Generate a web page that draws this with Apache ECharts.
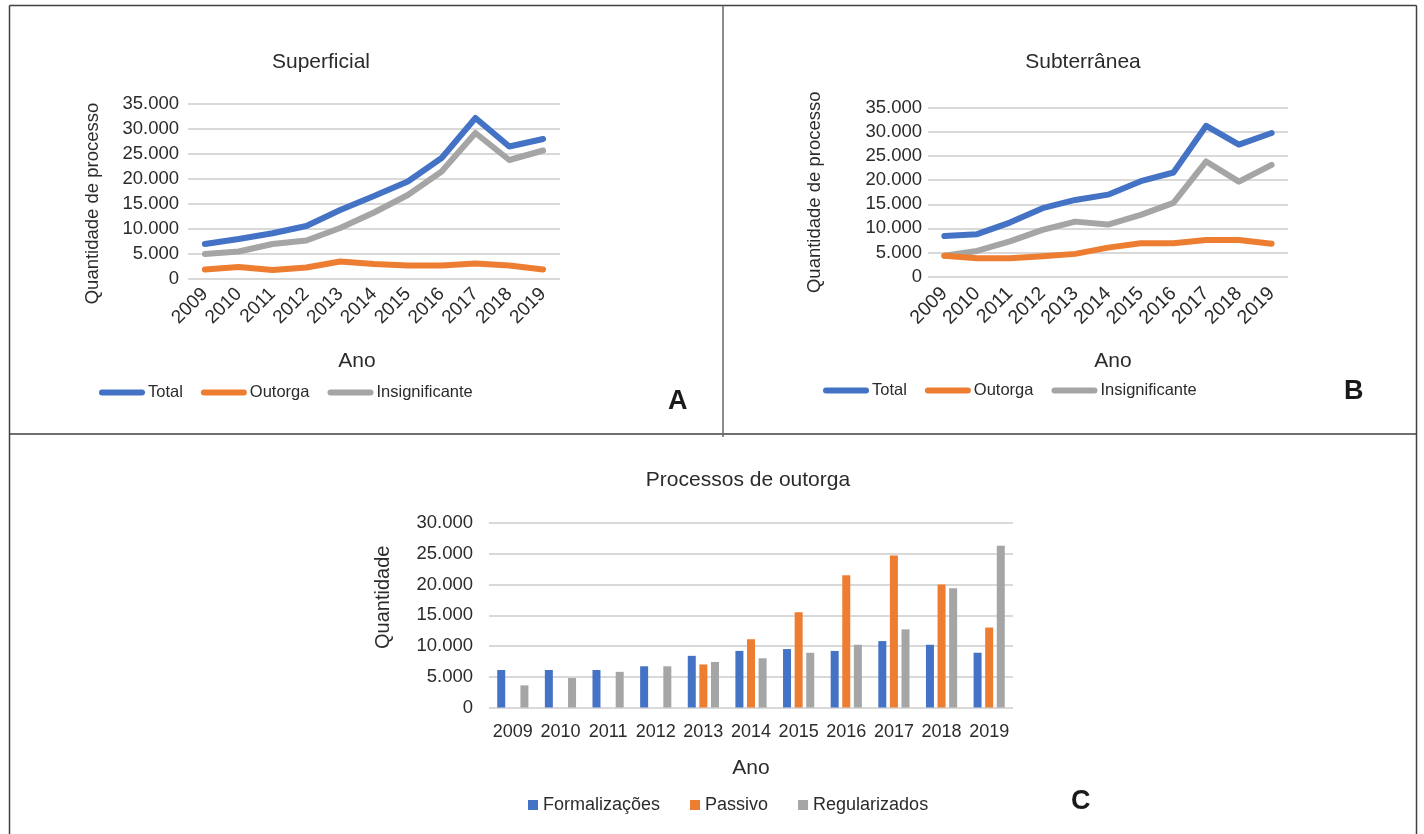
<!DOCTYPE html>
<html>
<head>
<meta charset="utf-8">
<script src="https://cdn.jsdelivr.net/npm/echarts@6/dist/echarts.min.js"></script>
<style>
  html, body { margin: 0; padding: 0; background: #fff; }
  #chart { width: 1424px; height: 834px; }
</style>
</head>
<body>
<div id="chart"></div>
<script>
const years = ['2009', '2010', '2011', '2012', '2013', '2014', '2015', '2016', '2017', '2018', '2019'];

// A - Superficial
const supTotal = [7000, 8000, 9150, 10600, 13800, 16600, 19500, 24200, 32200, 26500, 28000];
const supOutorga = [1900, 2400, 1800, 2300, 3500, 3000, 2700, 2700, 3100, 2700, 1900];
const supInsig = [5000, 5500, 7000, 7700, 10200, 13300, 16800, 21500, 29200, 23800, 25700];

// B - Subterrânea
const subTotal = [8400, 8800, 11200, 14200, 15900, 17000, 19800, 21600, 31300, 27400, 29800];
const subOutorga = [4300, 3800, 3800, 4200, 4700, 6000, 6900, 6900, 7600, 7600, 6800];
const subInsig = [4300, 5300, 7300, 9700, 11400, 10800, 12800, 15300, 23900, 19700, 23200];

// C - Processos de outorga
const formalizacoes = [6100, 6100, 6100, 6700, 8400, 9200, 9500, 9200, 10800, 10200, 8900];
const passivo = [0, 0, 0, 0, 7000, 11100, 15500, 21500, 24700, 20000, 13000];
const regularizados = [3600, 4800, 5800, 6700, 7400, 8000, 8900, 10200, 12700, 19400, 26300];

const BLUE = '#4472C4';
const ORANGE = '#ED7D31';
const GRAY = '#A5A5A5';
const TXT = '#2b2b2b';
const FONT = 'Liberation Sans';
const BORDER = '#404040';

const fmt = v => v === 0 ? '0' : String(v).replace(/\B(?=(\d{3})+(?!\d))/g, '.');
const lineIcon = 'path://M3,0 L43,0 A3,3 0 0 1 43,6 L3,6 A3,3 0 0 1 3,0 Z';

const chart = echarts.init(document.getElementById('chart'));

const yAxisBase = (gridIndex, max, margin, nameGap, name, nameSize, namePad) => ({
  type: 'value',
  gridIndex,
  min: 0,
  max,
  interval: 5000,
  name,
  nameLocation: 'middle',
  nameGap,
  nameRotate: 90,
  nameTextStyle: { color: TXT, fontSize: nameSize, fontFamily: FONT, padding: namePad },
  axisLine: { show: false },
  axisTick: { show: false },
  axisLabel: { color: TXT, fontSize: 18.5, fontFamily: FONT, margin, formatter: fmt },
  splitLine: { lineStyle: { color: '#d9d9d9', width: 2 } }
});

const xAxisBase = (gridIndex, rotate, margin, nameGap, namePad, labelSize) => ({
  type: 'category',
  gridIndex,
  data: years,
  name: 'Ano',
  nameLocation: 'middle',
  nameGap,
  nameTextStyle: { color: TXT, fontSize: 21, fontFamily: FONT, padding: namePad },
  axisLine: { show: false },
  axisTick: { show: false },
  axisLabel: { color: TXT, fontSize: labelSize, fontFamily: FONT, rotate, margin, interval: 0 }
});

const lineSeries = (name, data, color, idx) => ({
  name,
  type: 'line',
  xAxisIndex: idx,
  yAxisIndex: idx,
  data,
  showSymbol: false,
  symbol: 'none',
  itemStyle: { color },
  lineStyle: { color, width: 6, cap: 'round', join: 'round' }
});

const barSeries = (name, data, color) => ({
  name,
  type: 'bar',
  xAxisIndex: 2,
  yAxisIndex: 2,
  data,
  barWidth: 8,
  barGap: '45%',
  itemStyle: { color }
});

const titleStyle = { color: TXT, fontSize: 21, fontWeight: 'normal', fontFamily: FONT };

const option = {
  backgroundColor: '#fff',
  animation: false,
  title: [
    { text: 'Superficial', left: 316, top: 47, textAlign: 'center', textStyle: titleStyle },
    { text: 'Subterrânea', left: 1078, top: 47, textAlign: 'center', textStyle: titleStyle },
    { text: 'Processos de outorga', left: 743, top: 465, textAlign: 'center', textStyle: titleStyle }
  ],
  legend: [
    {
      left: 94, top: 379, icon: lineIcon, itemWidth: 46, itemHeight: 7, itemGap: 18,
      data: ['Total', 'Outorga', 'Insignificante'],
      textStyle: { color: TXT, fontSize: 16.5, fontFamily: FONT, padding: [0, 0, 0, -2] }
    },
    {
      left: 818, top: 377, icon: lineIcon, itemWidth: 46, itemHeight: 7, itemGap: 18,
      data: ['Total', 'Outorga', 'Insignificante'],
      textStyle: { color: TXT, fontSize: 16.5, fontFamily: FONT, padding: [0, 0, 0, -2] }
    },
    {
      left: 523, top: 791, icon: 'rect', itemWidth: 10, itemHeight: 10, itemGap: 30,
      data: ['Formalizações', 'Passivo', 'Regularizados'],
      textStyle: { color: TXT, fontSize: 18, fontFamily: FONT }
    }
  ],
  grid: [
    { left: 188, top: 104, width: 372, height: 175 },
    { left: 928, top: 108, width: 360, height: 168.5 },
    { left: 489, top: 523, width: 524, height: 184.5 }
  ],
  xAxis: [
    xAxisBase(0, 45, 12, 72, [0, 34, 0, 0], 19),
    xAxisBase(1, 45, 14, 74, [0, 0, 0, 10], 19.5),
    xAxisBase(2, 0, 16, 50, 0, 18)
  ],
  yAxis: [
    yAxisBase(0, 35000, 9, 86, 'Quantidade de processo', 18.5, [0, 24, 0, 0]),
    yAxisBase(1, 35000, 6, 104, 'Quantidade de processo', 18.5, 0),
    yAxisBase(2, 30000, 16, 96, 'Quantidade', 20, [0, 0, 0, 36])
  ],
  series: [
    lineSeries('Insignificante', supInsig, GRAY, 0),
    lineSeries('Outorga', supOutorga, ORANGE, 0),
    lineSeries('Total', supTotal, BLUE, 0),
    lineSeries('Insignificante', subInsig, GRAY, 1),
    lineSeries('Outorga', subOutorga, ORANGE, 1),
    lineSeries('Total', subTotal, BLUE, 1),
    barSeries('Formalizações', formalizacoes, BLUE),
    barSeries('Passivo', passivo, ORANGE),
    barSeries('Regularizados', regularizados, GRAY)
  ],
  graphic: [
    { type: 'line', shape: { x1: 9.5, y1: 5.5, x2: 1416.5, y2: 5.5 }, style: { stroke: BORDER, lineWidth: 1.5 } },
    { type: 'line', shape: { x1: 9.5, y1: 5.5, x2: 9.5, y2: 834 }, style: { stroke: BORDER, lineWidth: 1.5 } },
    { type: 'line', shape: { x1: 1416.5, y1: 5.5, x2: 1416.5, y2: 834 }, style: { stroke: BORDER, lineWidth: 1.5 } },
    { type: 'line', shape: { x1: 9.5, y1: 434, x2: 1416.5, y2: 434 }, style: { stroke: BORDER, lineWidth: 1.5 } },
    { type: 'line', shape: { x1: 723, y1: 5.5, x2: 723, y2: 437 }, style: { stroke: '#666', lineWidth: 1.5 } },
    { type: 'text', left: 668, top: 388, style: { text: 'A', fill: '#1a1a1a', font: 'bold 27px "Liberation Sans"' } },
    { type: 'text', left: 1344, top: 378, style: { text: 'B', fill: '#1a1a1a', font: 'bold 27px "Liberation Sans"' } },
    { type: 'text', left: 1071, top: 788, style: { text: 'C', fill: '#1a1a1a', font: 'bold 27px "Liberation Sans"' } }
  ]
};

chart.setOption(option);
</script>
</body>
</html>
